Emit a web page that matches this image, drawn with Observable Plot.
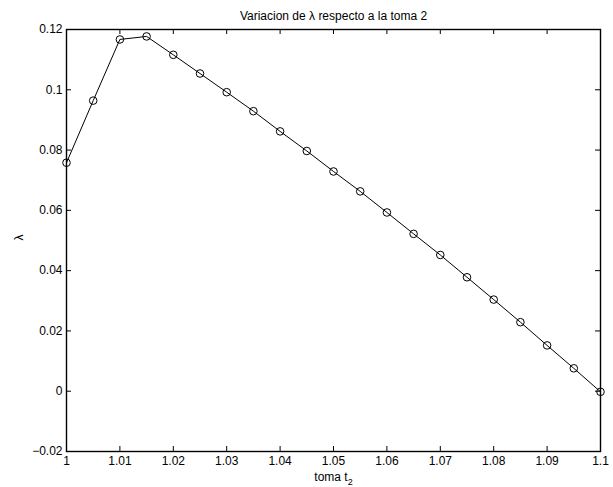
<!DOCTYPE html>
<html><head><meta charset="utf-8">
<script src="https://cdn.jsdelivr.net/npm/d3@7"></script>
<script src="https://cdn.jsdelivr.net/npm/@observablehq/plot@0.6"></script>
<style>body{margin:0;background:#fff} svg{display:block}</style>
</head><body><div id="chart"></div>
<script>
const toma = [1.000, 1.005, 1.010, 1.015, 1.020, 1.025, 1.030, 1.035, 1.040, 1.045, 1.050,
              1.055, 1.060, 1.065, 1.070, 1.075, 1.080, 1.085, 1.090, 1.095, 1.100];
const lambda = [0.0758, 0.0964, 0.1167, 0.1177, 0.1116, 0.1054, 0.0992, 0.0929, 0.0862, 0.0797, 0.0729,
                0.0663, 0.0593, 0.0522, 0.0452, 0.0378, 0.0304, 0.0229, 0.0152, 0.0076, -0.0002];
const xTicks = [1, 1.01, 1.02, 1.03, 1.04, 1.05, 1.06, 1.07, 1.08, 1.09, 1.1];
const xTickLabels = ["1", "1.01", "1.02", "1.03", "1.04", "1.05", "1.06", "1.07", "1.08", "1.09", "1.1"];
const yTicks = [-0.02, 0, 0.02, 0.04, 0.06, 0.08, 0.1, 0.12];
const yTickLabels = ["\u22120.02", "0", "0.02", "0.04", "0.06", "0.08", "0.1", "0.12"];
const titleText = "Variacion de \u03bb respecto a la toma 2";
const xLabel = "toma t";
const xLabelSub = "2";
const yLabel = "\u03bb";

const W = 613, H = 487;
const mL = 66, mR = 13, mT = 29, mB = 36;
const pw = W - mL - mR, ph = H - mT - mB;
const tick = 5;
const font = "'Liberation Sans', Arial, Helvetica, sans-serif";
const fs = 12;

const data = toma.map((t, i) => ({t, l: lambda[i]}));
const xMap = new Map(xTicks.map((t, i) => [t, xTickLabels[i]]));
const yMap = new Map(yTicks.map((t, i) => [t, yTickLabels[i]]));

const chart = Plot.plot({
  width: W, height: H,
  marginLeft: mL, marginRight: mR, marginTop: mT, marginBottom: mB,
  style: {fontFamily: font, fontSize: fs + "px", background: "#fff", color: "#000"},
  x: {domain: [1, 1.1], label: null},
  y: {domain: [-0.02, 0.12], label: null},
  marks: [
    Plot.axisX(xTicks, {tickSize: 0, tickPadding: 5, tickFormat: d => xMap.get(d), fontSize: fs}),
    Plot.axisY(yTicks, {tickSize: 0, tickPadding: 4, tickFormat: d => yMap.get(d), fontSize: fs}),
    Plot.ruleX(xTicks, {x: d => d, insetTop: ph - tick, stroke: "#000"}),
    Plot.ruleX(xTicks, {x: d => d, insetBottom: ph - tick, stroke: "#000"}),
    Plot.ruleY(yTicks, {y: d => d, insetRight: pw - tick, stroke: "#000"}),
    Plot.ruleY(yTicks, {y: d => d, insetLeft: pw - tick, stroke: "#000"}),
    Plot.frame({stroke: "#000", strokeWidth: 1.4}),
    Plot.line(data, {x: "t", y: "l", stroke: "#000", strokeWidth: 1}),
    Plot.dot(data, {x: "t", y: "l", r: 3.8, stroke: "#000", fill: "none", strokeWidth: 1}),
    Plot.text([titleText], {frameAnchor: "top", dy: -10, lineAnchor: "bottom", fontSize: fs, fill: "#000"}),
    Plot.text([xLabel], {frameAnchor: "bottom", dy: 29, lineAnchor: "bottom", fontSize: fs, fill: "#000", className: "xlab"}),
    Plot.text([yLabel], {frameAnchor: "left", dx: -47, rotate: -90, fontSize: fs, fill: "#000"})
  ]
});
// add the subscript to the x label
d3.select(chart).selectAll(".xlab text").each(function() {
  d3.select(this).append("tspan").attr("baseline-shift", "-40%").attr("font-size", "9px").text(xLabelSub);
});
document.getElementById("chart").appendChild(chart);
</script>
</body></html>
